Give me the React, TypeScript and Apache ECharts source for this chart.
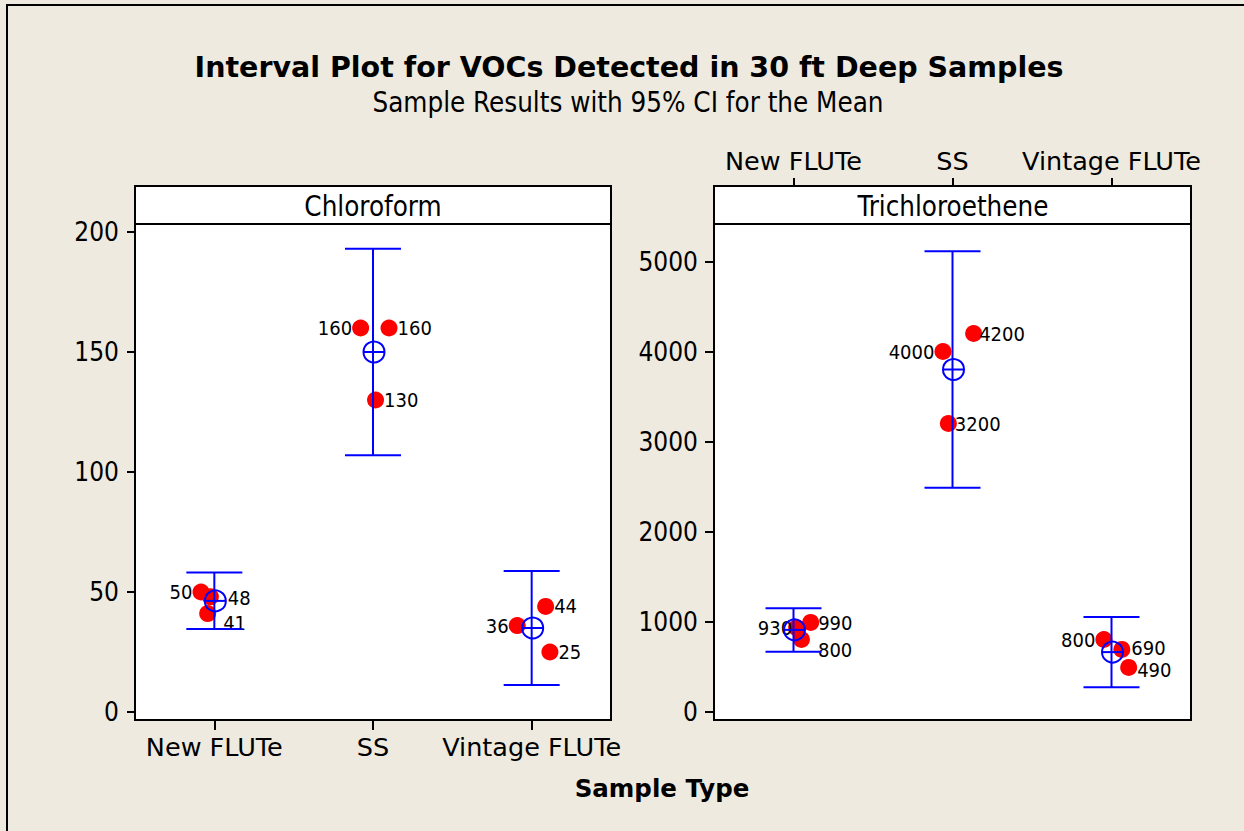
import React, { useEffect, useRef } from "react";
import * as echarts from "echarts";

const categories = ["New FLUTe", "SS", "Vintage FLUTe"];

// Chloroform individual samples
const chloroCat = [0, 0, 0, 1, 1, 1, 2, 2, 2];
const chloroJitter = [-0.084, -0.025, -0.042, -0.078, 0.101, 0.016, -0.091, 0.088, 0.115];
const chloroValues = [50, 48, 41, 160, 160, 130, 36, 44, 25];
const chloroMean = [46.3, 150, 35];
const chloroLow = [34.6, 107, 11.3];
const chloroHigh = [58.1, 193, 58.7];

// Trichloroethene individual samples
const triCat = [0, 0, 0, 1, 1, 1, 2, 2, 2];
const triJitter = [0.02, 0.108, 0.05, -0.06, 0.133, -0.026, -0.048, 0.065, 0.108];
const triValues = [930, 990, 800, 4000, 4200, 3200, 800, 690, 490];
const triMean = [907, 3800, 660];
const triLow = [665, 2485, 270];
const triHigh = [1148, 5115, 1050];

const chloroTicks = [0, 50, 100, 150, 200];
const triTicks = [0, 1000, 2000, 3000, 4000, 5000];

// label placement (styling)
const chloroLabelSide = ["left", "right", "right", "left", "right", "right", "left", "right", "right"];
const chloroLabelOffset = [[0, 0], [9, 1], [7, 9], [0, 0], [0, 0], [0, 0], [0, 0], [0, 0], [0, 0]];
const triLabelSide = ["left", "right", "right", "left", "right", "right", "left", "right", "right"];
const triLabelOffset = [[4, 0], [-1, 1], [8, 10], [0, 0], [-3, 0], [-2, 0], [0, 0], [1, -1], [0, 3]];

const COND = "'DejaVu Sans Condensed', 'DejaVu Sans', sans-serif";
const REG = "'DejaVu Sans', sans-serif";
const BLUE = "#0000FF";
const RED = "#FF0000";

function pointData(cat: number[], jit: number[], vals: number[], side: string[], off: number[][]) {
  return vals.map((v, i) => ({
    value: [cat[i] + jit[i], v],
    label: { position: side[i], offset: off[i] },
  }));
}

function ciData(mean: number[], low: number[], high: number[]) {
  return mean.map((m, i) => [i, m, low[i], high[i]]);
}

function renderCI(params: any, api: any) {
  const x = api.value(0);
  const m = api.coord([x, api.value(1)]);
  const lo = api.coord([x, api.value(2)]);
  const hi = api.coord([x, api.value(3)]);
  const cap = 28;
  const r = 10.5;
  const st = { stroke: BLUE, lineWidth: 2, fill: "none" };
  return {
    type: "group",
    children: [
      { type: "line", shape: { x1: hi[0], y1: hi[1], x2: lo[0], y2: lo[1] }, style: st },
      { type: "line", shape: { x1: hi[0] - cap, y1: hi[1], x2: hi[0] + cap, y2: hi[1] }, style: st },
      { type: "line", shape: { x1: lo[0] - cap, y1: lo[1], x2: lo[0] + cap, y2: lo[1] }, style: st },
      { type: "circle", shape: { cx: m[0] + 1, cy: m[1], r }, style: st },
      { type: "line", shape: { x1: m[0] + 1 - r, y1: m[1], x2: m[0] + 1 + r, y2: m[1] }, style: st },
    ],
  };
}

export default function App() {
  const ref = useRef<HTMLDivElement>(null);
  useEffect(() => {
    document.body.style.margin = "0";
    const chart = echarts.init(ref.current!, null, { renderer: "svg" });
    const axisLine = { show: true, onZero: false, lineStyle: { color: "#000", width: 2 } };
    const catLabel = { color: "#000", fontSize: 25.5, fontFamily: REG, interval: 0 };
    const numLabel = { color: "#000", fontSize: 26, fontFamily: COND, formatter: (v: number) => String(v) };
    const pointLabel = {
      show: true,
      color: "#000",
      fontSize: 20,
      fontFamily: COND,
      distance: 0,
      formatter: (p: any) => String(p.value[1]),
    };
    const option: any = {
      animation: false,
      backgroundColor: "#EEEAE0",
      grid: [
        { left: 135, top: 224, width: 476, height: 496, show: true, backgroundColor: "#fff", borderColor: "#000", borderWidth: 2 },
        { left: 714, top: 224, width: 477, height: 496, show: true, backgroundColor: "#fff", borderColor: "#000", borderWidth: 2 },
      ],
      xAxis: [
        {
          type: "category", gridIndex: 0, position: "bottom", data: categories, boundaryGap: true,
          axisLine, axisTick: { show: true, alignWithLabel: true, interval: 0, length: 10, lineStyle: { color: "#000", width: 2 } },
          axisLabel: { ...catLabel, margin: 14 }, splitLine: { show: false }, z: 20,
        },
        { type: "value", gridIndex: 0, min: -0.5, max: 2.5, show: false, axisLine: { onZero: false } },
        {
          type: "category", gridIndex: 1, position: "top", offset: 38, data: categories, boundaryGap: true,
          axisLine, axisTick: { show: true, alignWithLabel: true, interval: 0, length: 8, lineStyle: { color: "#000", width: 2 } },
          axisLabel: { ...catLabel, margin: 12 }, splitLine: { show: false }, z: 20,
        },
        { type: "value", gridIndex: 1, min: -0.5, max: 2.5, show: false, axisLine: { onZero: false } },
      ],
      yAxis: [
        {
          type: "value", gridIndex: 0, min: -3.33, max: 203.33,
          axisLine, splitLine: { show: false },
          axisTick: { show: true, length: 8, customValues: chloroTicks, lineStyle: { color: "#000", width: 2 } },
          axisLabel: { ...numLabel, margin: 16, customValues: chloroTicks },
        },
        {
          type: "value", gridIndex: 1, min: -94.4, max: 5416.7,
          axisLine, splitLine: { show: false },
          axisTick: { show: true, length: 9, customValues: triTicks, lineStyle: { color: "#000", width: 2 } },
          axisLabel: { ...numLabel, margin: 16, customValues: triTicks },
        },
      ],
      series: [
        {
          type: "scatter", xAxisIndex: 1, yAxisIndex: 0, symbol: "circle", symbolSize: 17,
          itemStyle: { color: RED, opacity: 1 }, label: pointLabel, z: 2,
          data: pointData(chloroCat, chloroJitter, chloroValues, chloroLabelSide, chloroLabelOffset),
        },
        {
          type: "scatter", xAxisIndex: 3, yAxisIndex: 1, symbol: "circle", symbolSize: 17,
          itemStyle: { color: RED, opacity: 1 }, label: pointLabel, z: 2,
          data: pointData(triCat, triJitter, triValues, triLabelSide, triLabelOffset),
        },
        {
          type: "custom", xAxisIndex: 1, yAxisIndex: 0, renderItem: renderCI, z: 3,
          data: ciData(chloroMean, chloroLow, chloroHigh),
        },
        {
          type: "custom", xAxisIndex: 3, yAxisIndex: 1, renderItem: renderCI, z: 3,
          data: ciData(triMean, triLow, triHigh),
        },
      ],
      graphic: [
        { type: "rect", shape: { x: 7, y: 5, width: 1300, height: 900 }, style: { fill: "none", stroke: "#000", lineWidth: 2 }, z: 100 },
        { type: "rect", shape: { x: 135, y: 186, width: 476, height: 38 }, style: { fill: "#fff", stroke: "#000", lineWidth: 2 }, z: 10 },
        { type: "rect", shape: { x: 714, y: 186, width: 477, height: 38 }, style: { fill: "#fff", stroke: "#000", lineWidth: 2 }, z: 10 },
        { type: "text", x: 373, y: 206, style: { text: "Chloroform", fontSize: 27.5, fontFamily: COND, fill: "#000", textAlign: "center", textVerticalAlign: "middle" }, z: 11 },
        { type: "text", x: 953, y: 206, style: { text: "Trichloroethene", fontSize: 27.5, fontFamily: COND, fill: "#000", textAlign: "center", textVerticalAlign: "middle" }, z: 11 },
        { type: "text", x: 629, y: 67, style: { text: "Interval Plot for VOCs Detected in 30 ft Deep Samples", fontSize: 28.5, fontWeight: "bold", fontFamily: REG, fill: "#000", textAlign: "center", textVerticalAlign: "middle" } },
        { type: "text", x: 628, y: 102, style: { text: "Sample Results with 95% CI for the Mean", fontSize: 27.5, fontFamily: COND, fill: "#000", textAlign: "center", textVerticalAlign: "middle" } },
        { type: "text", x: 662, y: 788, style: { text: "Sample Type", fontSize: 24.5, fontWeight: "bold", fontFamily: REG, fill: "#000", textAlign: "center", textVerticalAlign: "middle" } },
      ],
    };
    chart.setOption(option);
    return () => chart.dispose();
  }, []);
  return <div ref={ref} style={{ position: "absolute", left: 0, top: 0, width: 1244, height: 831 }} />;
}
